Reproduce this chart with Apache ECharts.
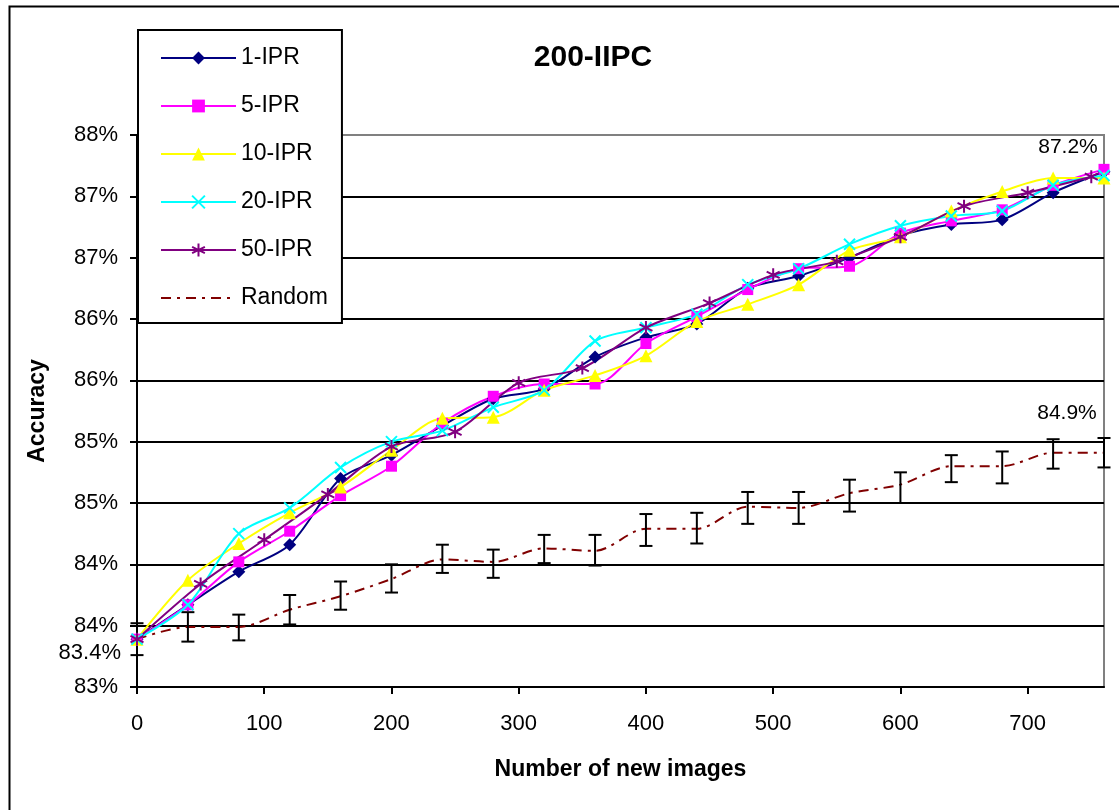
<!DOCTYPE html>
<html>
<head>
<meta charset="utf-8">
<script src="https://cdn.jsdelivr.net/npm/echarts@6/dist/echarts.min.js"></script>
<style>
html,body{margin:0;padding:0;background:#fff;}
#c{width:1119px;height:810px;}
</style>
</head>
<body>
<div id="c"></div>
<script>
// ---- data ----
var xSteps40 = [0,40,80,120,160,200,240,280,320,360,400,440,480,520,560,600,640,680,720,760];
var xSteps50 = [0,50,100,150,200,250,300,350,400,450,500,550,600,650,700,750];
var ipr1  = [83.39,83.67,83.94,84.16,84.70,84.89,85.13,85.35,85.43,85.69,85.85,85.96,86.25,86.35,86.50,86.68,86.77,86.81,87.03,87.20];
var ipr5  = [83.39,83.67,84.02,84.27,84.56,84.80,85.15,85.37,85.47,85.47,85.80,86.02,86.24,86.41,86.43,86.70,86.80,86.89,87.09,87.22];
var ipr10 = [83.39,83.87,84.17,84.42,84.63,84.93,85.19,85.20,85.42,85.54,85.70,85.98,86.12,86.28,86.56,86.67,86.88,87.04,87.15,87.15];
var ipr20 = [83.39,83.67,84.25,84.46,84.79,85.00,85.09,85.28,85.42,85.82,85.93,86.04,86.28,86.41,86.61,86.76,86.84,86.88,87.09,87.17];
var ipr50 = [83.39,83.84,84.20,84.57,84.96,85.08,85.48,85.60,85.93,86.13,86.36,86.47,86.67,86.92,87.03,87.16];
var randomMean = [83.39,83.49,83.49,83.63,83.74,83.88,84.04,84.02,84.13,84.11,84.29,84.29,84.47,84.46,84.58,84.65,84.80,84.80,84.91,84.91];
var randomLow  = [83.26,83.37,83.38,83.51,83.63,83.77,83.93,83.89,84.01,83.99,84.15,84.17,84.33,84.33,84.43,84.50,84.67,84.66,84.78,84.79];
var randomHigh = [83.52,83.61,83.59,83.75,83.86,84.00,84.16,84.12,84.24,84.24,84.41,84.42,84.59,84.59,84.69,84.75,84.89,84.92,85.02,85.03];
var xTicks = [0,100,200,300,400,500,600,700];
var yTickLabels = ['83%','84%','84%','85%','85%','86%','86%','87%','87%','88%'];
var seriesNames = ['1-IPR','5-IPR','10-IPR','20-IPR','50-IPR','Random'];
var titleText = '200-IIPC';
var xName = 'Number of new images';
var yName = 'Accuracy';
var annotStart = '83.4%', annotEndIPR = '87.2%', annotEndRandom = '84.9%';

// ---- build ----
function pairs(xs, ys){ return xs.map(function(x,i){ return [x, ys[i]]; }); }
var FONT = 'Liberation Sans, Arial, sans-serif';
var chart = echarts.init(document.getElementById('c'), null, {renderer:'canvas'});

function lineSeries(name, xs, ys, color, symbol, size, stroke){
  return {
    name: name, type: 'line', data: pairs(xs, ys), smooth: 0.3,
    symbol: symbol, symbolSize: size,
    lineStyle: {color: color, width: 2},
    itemStyle: stroke ? {color: color, borderColor: color, borderWidth: 2} : {color: color, borderWidth: 0},
    z: 5
  };
}
var gridColors = [];
for (var i = 0; i < 9; i++) gridColors.push('#000');
gridColors.push('#808080');

var legendData = seriesNames.map(function(n){
  return n === 'Random' ? {name: n, itemStyle: {color: 'rgba(0,0,0,0)', borderWidth: 0}} : {name: n};
});

var option = {
  animation: false,
  backgroundColor: '#fff',
  textStyle: {fontFamily: FONT},
  grid: {left: 137, top: 135, right: 15, bottom: 123, show: true, borderColor: '#808080', borderWidth: 2, containLabel: false},
  legend: {
    data: legendData, orient: 'vertical', left: 138, top: 30,
    padding: [16, 14, 13, 22], itemGap: 24, itemWidth: 75, itemHeight: 16,
    backgroundColor: '#fff', borderColor: '#000', borderWidth: 2,
    textStyle: {fontFamily: FONT, fontSize: 23, color: '#000', lineHeight: 24},
    selectedMode: false
  },
  xAxis: {
    type: 'value', min: 0, max: 760,
    name: xName, nameLocation: 'middle', nameGap: 71,
    nameTextStyle: {fontFamily: FONT, fontSize: 23, fontWeight: 'bold', color: '#000'},
    axisLine: {show: true, lineStyle: {color: '#000', width: 2}},
    axisTick: {show: true, length: 7, lineStyle: {color: '#000', width: 2}, customValues: xTicks},
    axisLabel: {fontFamily: FONT, fontSize: 22, color: '#000', margin: 26, customValues: xTicks},
    splitLine: {show: false}
  },
  yAxis: {
    type: 'value', min: 83, max: 87.5, interval: 0.5,
    name: yName, nameLocation: 'middle', nameGap: 88, nameRotate: 90,
    nameTextStyle: {fontFamily: FONT, fontSize: 23, fontWeight: 'bold', color: '#000'},
    axisLine: {show: true, lineStyle: {color: '#000', width: 2}},
    axisTick: {show: true, inside: false, length: 7, lineStyle: {color: '#000', width: 2}},
    axisLabel: {fontFamily: FONT, fontSize: 22, color: '#000', margin: 19,
      formatter: function(v, idx){ return yTickLabels[idx] !== undefined ? yTickLabels[idx] : ''; }},
    splitLine: {show: true, lineStyle: {color: gridColors, width: 2}}
  },
  graphic: [
    {type: 'rect', left: 7, top: 4, shape: {width: 1200, height: 900}, style: {fill: null, stroke: '#000', lineWidth: 2}, z: 0, silent: true},
    {type: 'text', x: 593, y: 58, style: {text: titleText, font: 'bold 30px ' + FONT, fill: '#000', textAlign: 'center', textVerticalAlign: 'middle'}, z: 10},
    {type: 'text', x: 121, y: 653, style: {text: annotStart, font: '22px ' + FONT, fill: '#000', textAlign: 'right', textVerticalAlign: 'middle'}, z: 10},
    {type: 'text', x: 1068, y: 147, style: {text: annotEndIPR, font: '21px ' + FONT, fill: '#000', textAlign: 'center', textVerticalAlign: 'middle'}, z: 10},
    {type: 'text', x: 1067, y: 413, style: {text: annotEndRandom, font: '21px ' + FONT, fill: '#000', textAlign: 'center', textVerticalAlign: 'middle'}, z: 10}
  ],
  series: [
    lineSeries(seriesNames[0], xSteps40, ipr1, '#000080', 'diamond', 13, false),
    lineSeries(seriesNames[1], xSteps40, ipr5, '#FF00FF', 'rect', 11, false),
    lineSeries(seriesNames[2], xSteps40, ipr10, '#FFFF00', 'triangle', 13, false),
    lineSeries(seriesNames[3], xSteps40, ipr20, '#00FFFF', 'path://M0,0L10,10M10,0L0,10', 11, true),
    lineSeries(seriesNames[4], xSteps50, ipr50, '#800080', 'path://M5,0L5,10M0.7,2.5L9.3,7.5M0.7,7.5L9.3,2.5', 13, true),
    {
      name: seriesNames[5], type: 'line', data: pairs(xSteps40, randomMean), smooth: 0.3,
      symbol: 'none', lineStyle: {color: '#800000', width: 2, type: [10, 6, 3, 6]},
      itemStyle: {color: '#800000'}, z: 3
    },
    {
      name: 'RandomErr', type: 'custom', z: 4, clip: false,
      data: xSteps40.map(function(x, i){ return [x, randomLow[i], randomHigh[i]]; }),
      encode: {x: 0, y: [1, 2]},
      renderItem: function(params, api){
        var x = api.value(0), lo = api.value(1), hi = api.value(2);
        var a = api.coord([x, lo]), b = api.coord([x, hi]);
        var hw = 6.5, st = {stroke: '#000', lineWidth: 2};
        return {type: 'group', children: [
          {type: 'line', shape: {x1: a[0], y1: a[1], x2: b[0], y2: b[1]}, style: st},
          {type: 'line', shape: {x1: a[0]-hw, y1: a[1], x2: a[0]+hw, y2: a[1]}, style: st},
          {type: 'line', shape: {x1: b[0]-hw, y1: b[1], x2: b[0]+hw, y2: b[1]}, style: st}
        ]};
      }
    }
  ]
};
chart.setOption(option);
</script>
</body>
</html>
